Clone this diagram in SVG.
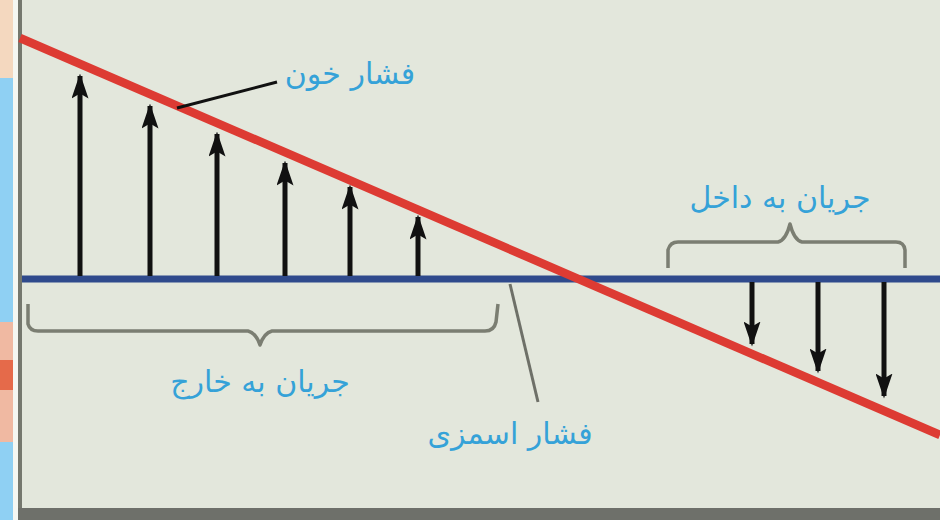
<svg xmlns="http://www.w3.org/2000/svg" width="940" height="520" viewBox="0 0 940 520">
<defs>
<style>
.lbl{font-family:"DejaVu Sans","Noto Sans",sans-serif;font-size:30px;fill:#35a2d8;text-anchor:middle}
.arr{stroke:#111;stroke-width:5;fill:none}
.brace{stroke:#7b7e72;stroke-width:3.5;fill:none;stroke-linejoin:round}
</style>
<marker id="ah" viewBox="0 0 10 10" refX="9" refY="5" markerWidth="5" markerHeight="3.4" orient="auto" markerUnits="strokeWidth" preserveAspectRatio="none">
<path d="M0,0 L10,5 L0,10 L2,5 z" fill="#111"/>
</marker>
</defs>
<rect x="0" y="0" width="940" height="520" fill="#e3e7dc"/>
<rect x="0" y="0" width="13" height="520" fill="#8fd0f3"/>
<rect x="0" y="0" width="13" height="78" fill="#f4d8bf"/>
<rect x="0" y="322" width="13" height="120" fill="#f0b9a2"/>
<rect x="0" y="360" width="13" height="30" fill="#e56a4a"/>
<rect x="13" y="0" width="5" height="520" fill="#f5f7f2"/>
<rect x="18" y="0" width="4" height="520" fill="#75786e"/>
<rect x="18" y="508" width="922" height="12" fill="#6e706a"/>
<g id="axis">
<line x1="22" y1="279" x2="940" y2="279" stroke="#2f4a8c" stroke-width="7"/>
</g>
<g id="blood-pressure-line">
<line x1="20" y1="38" x2="940" y2="435" stroke="#dd3b33" stroke-width="8.5"/>
</g>
<g id="connectors">
<line class="arr" x1="80" y1="276" x2="80" y2="76" marker-end="url(#ah)"/>
<line class="arr" x1="150" y1="276" x2="150" y2="106" marker-end="url(#ah)"/>
<line class="arr" x1="217" y1="276" x2="217" y2="134" marker-end="url(#ah)"/>
<line class="arr" x1="285" y1="276" x2="285" y2="163" marker-end="url(#ah)"/>
<line class="arr" x1="350" y1="276" x2="350" y2="187" marker-end="url(#ah)"/>
<line class="arr" x1="418" y1="276" x2="418" y2="217" marker-end="url(#ah)"/>
<line class="arr" x1="752" y1="282" x2="752" y2="344" marker-end="url(#ah)"/>
<line class="arr" x1="818" y1="282" x2="818" y2="371" marker-end="url(#ah)"/>
<line class="arr" x1="884" y1="282" x2="884" y2="396" marker-end="url(#ah)"/>
<line x1="177" y1="108" x2="277" y2="82" stroke="#111" stroke-width="3"/>
<line x1="510" y1="284" x2="538" y2="402" stroke="#6e7068" stroke-width="3"/>
</g>
<g id="brace-out">
<path class="brace" d="M28,304 L28,324 Q30,331 38,331 L248,331 Q256,333 260,345 Q264,333 272,331 L485,331 Q494,331 496,322 L498,304"/>
</g>
<g id="brace-in">
<path class="brace" d="M668,268 L668,250 Q670,242 678,242 L778,242 Q786,240 790,224 Q794,240 802,242 L896,242 Q904,242 905,250 L905,268"/>
</g>
<g id="label-blood">
<text class="lbl" x="350" y="84">فشار خون</text>
</g>
<g id="label-in">
<text class="lbl" x="780" y="208">جریان به داخل</text>
</g>
<g id="label-out">
<text class="lbl" x="260" y="392">جریان به خارج</text>
</g>
<g id="label-osmotic">
<text class="lbl" x="510" y="444">فشار اسمزی</text>
</g>
</svg>
